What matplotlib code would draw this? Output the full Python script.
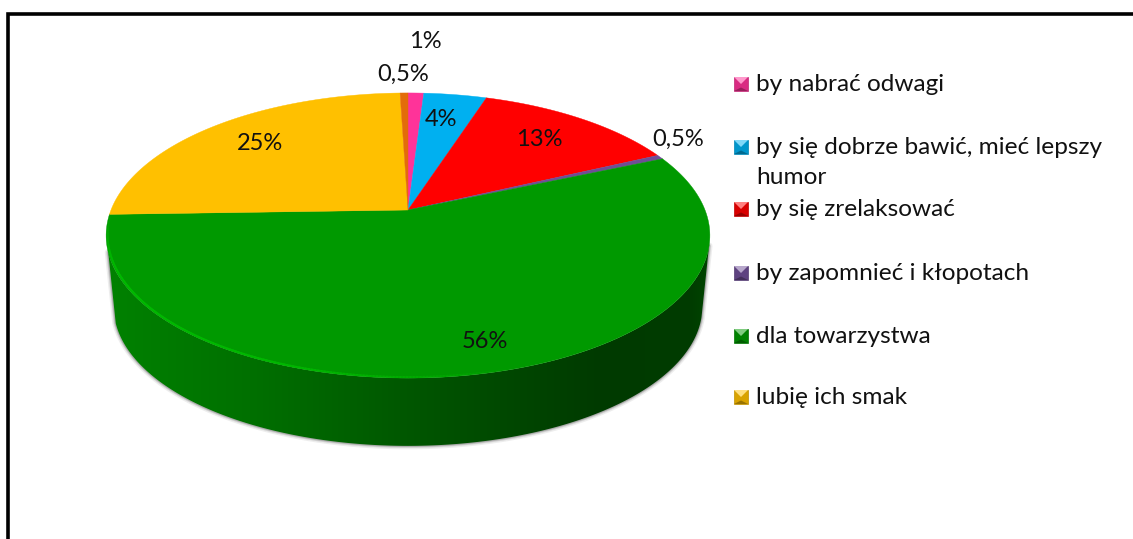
import numpy as np
import matplotlib
matplotlib.use("Agg")
import matplotlib.pyplot as plt
from matplotlib.patches import Polygon

# ---- data ----
slice_names = ["by nabrać odwagi", "by się dobrze bawić, mieć lepszy\nhumor", "by się zrelaksować",
               "by zapomnieć i kłopotach", "dla towarzystwa", "lubię ich smak", None]
slice_values = [1, 4, 13, 0.5, 56, 25, 0.5]
slice_labels = ["1%", "4%", "13%", "0,5%", "56%", "25%", "0,5%"]
slice_colors = ["#FF3399", "#00B0F0", "#FF0000", "#6F4E96", "#009900", "#FFC000", "#E36C09"]
legend_rows = [84, 147, 209, 273, 336, 397]
label_xy = [(425, 41), (441, 120), (539, 140), (678, 139), (485, 342), (260, 143), (403, 74)]

plt.rcParams["font.family"] = ["Lato", "DejaVu Sans"]
fig = plt.figure(figsize=(11.33, 5.39), dpi=100)
ax = fig.add_axes([0, 0, 1, 1])

CX, CY, RX, RY, K = 408, 210, 297, 138, 0.179
DEPTH, SHRINK = 72, 0.975
WALL_START, WALL_END = 0.29, 0.703  # visible part of the wall, as a fraction of the circle


def project(frac, r=1.0, dy=0.0, scale=1.0):
    """Fraction of the circle, clockwise from 12 o'clock -> perspective pixel position."""
    a = 2 * np.pi * np.asarray(frac, dtype=float)
    u, v = r * np.sin(a), r * np.cos(a)
    d = 1 + K * v
    return CX + scale * RX * u / d, CY + dy - scale * RY * v / d


edges = np.concatenate([[0], np.cumsum(slice_values)]) / np.sum(slice_values)

# side wall: only the front (green) slice is visible
g1 = edges[5]
t = np.linspace(WALL_START, WALL_END, 361)
side_x = [118, 250, 400, 520, 600, 690, 712]
side_c = [(0, 128, 0), (0, 112, 0), (0, 88, 0), (0, 70, 0), (0, 58, 0), (0, 60, 0), (0, 70, 0)]

bx, by = project(t, dy=DEPTH, scale=SHRINK)
tx, ty = project(t)

# soft shadow round the wall
sx = np.r_[tx[0], bx, tx[-1]]
sy = np.r_[ty[0], by, ty[-1]]
for lw, al in [(5, 0.10), (3, 0.18), (1.6, 0.30)]:
    ax.plot(sx, sy, color="#555555", lw=lw, alpha=al, solid_capstyle="round", zorder=1)

grad_x = np.arange(100, 720)
grad = np.stack([np.interp(grad_x, side_x, [s[j] for s in side_c]) / 255 for j in range(3)], axis=-1)[None, :, :]
img = ax.imshow(grad, extent=(100, 720, 460, 150), aspect="auto", zorder=2, interpolation="bilinear")
wall = Polygon(np.c_[np.r_[tx, bx[::-1]], np.r_[ty, by[::-1]]], closed=True, transform=ax.transData,
               facecolor="none", edgecolor="none")
ax.add_patch(wall)
img.set_clip_path(wall)

# top face
for i, col in enumerate(slice_colors):
    tt = np.linspace(edges[i], edges[i + 1], 200)
    x, y = project(tt)
    ax.fill(np.r_[CX, x], np.r_[CY, y], color=col, lw=0.3, zorder=3)

# bright bevel along the lower-left rim, fading towards both ends
bev = np.linspace(0.45, g1, 200)
bevx, bevy = project(bev, r=0.995)
for i in range(len(bev) - 1):
    f = i / (len(bev) - 1)
    ax.plot(bevx[i:i + 2], bevy[i:i + 2], color="#00B800", lw=1.4,
            alpha=min(1, f * 2.5, (1 - f) * 4), zorder=4)

# percentage labels
for (lx, ly), s in zip(label_xy, slice_labels):
    ax.text(lx, ly, s, ha="center", va="center", fontsize=17, color="#111111", zorder=6)

# legend
S = 7
for row, name, col in zip(legend_rows, slice_names, slice_colors):
    mx = 741
    rgb = np.array(matplotlib.colors.to_rgb(col))
    ax.add_patch(Polygon([(mx - S, row - S), (mx + S, row - S), (mx + S, row + S), (mx - S, row + S)],
                         closed=True, facecolor=rgb * 0.85, edgecolor=rgb * 0.75, lw=0.5, zorder=5))
    ax.add_patch(Polygon([(mx - S, row - S), (mx + S, row - S), (mx, row)], closed=True,
                         facecolor=rgb * 0.5 + 0.5, lw=0, zorder=6))
    ax.add_patch(Polygon([(mx - S, row + S), (mx + S, row + S), (mx, row + S / 2)], closed=True,
                         facecolor=rgb * 0.6, lw=0, zorder=6))
    ax.text(756, row - 10, name, ha="left", va="top", fontsize=17.6, color="#111111",
            linespacing=1.55, zorder=6)

# frame
ax.plot([1133, 8, 8], [14, 14, 539], color="black", lw=2.6, solid_joinstyle="miter", zorder=7)

ax.set_xlim(0, 1133)
ax.set_ylim(539, 0)
ax.axis("off")

fig.savefig("out.png", dpi=100, facecolor="white")
